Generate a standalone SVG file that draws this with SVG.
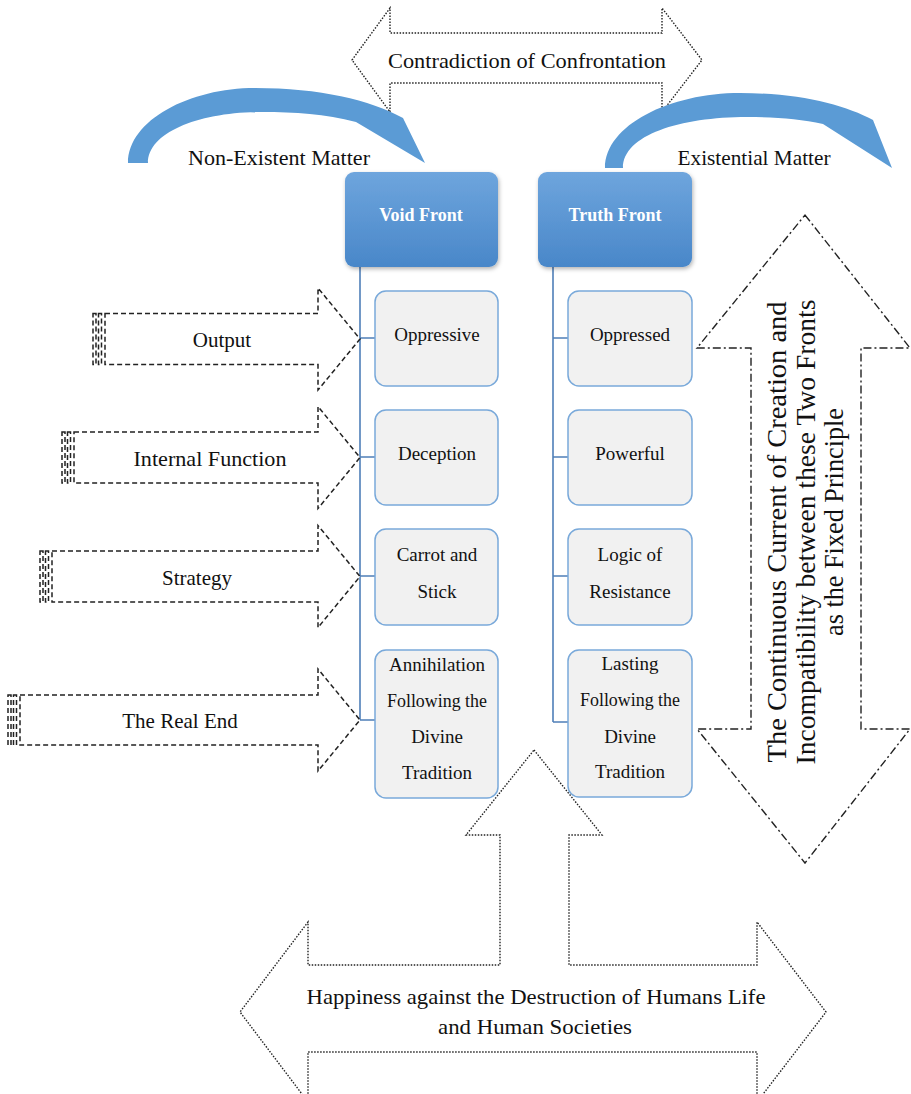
<svg xmlns="http://www.w3.org/2000/svg" width="911" height="1094" viewBox="0 0 911 1094">
<defs>
<linearGradient id="hdr" x1="0" y1="0" x2="0" y2="1">
<stop offset="0" stop-color="#6ea5dd"/>
<stop offset="1" stop-color="#4987c9"/>
</linearGradient>
<filter id="sh" x="-10%" y="-10%" width="130%" height="130%">
<feDropShadow dx="1" dy="2" stdDeviation="2" flood-color="#000" flood-opacity="0.3"/>
</filter>
</defs>
<style>
.t{font-family:"Liberation Serif","Times New Roman",serif;fill:#111;text-anchor:middle}
.hdrT{font-family:"Liberation Serif","Times New Roman",serif;font-weight:bold;font-size:18px;fill:#fff;text-anchor:middle}
.box{fill:#f1f1f1;stroke:#79a9da;stroke-width:1.5}
.hdr{fill:url(#hdr);filter:url(#sh)}
.conn{stroke:#4f7fb8;stroke-width:1.6;fill:none}
.dot{fill:#fff;stroke:#222;stroke-width:1.4;stroke-dasharray:1.5 1.5}
.dash{fill:#fff;stroke:#222;stroke-width:1.5;stroke-dasharray:5 3}
.dd{fill:#fff;stroke:#222;stroke-width:1.4;stroke-dasharray:8 3 2 3}
.blue{fill:#5b9bd5}
</style>

<g id="top-arrow">
<path class="dot" d="M352,60 L390,8 L390,33 L662,33 L662,8 L702,60 L662,112 L662,83 L390,83 L390,112 Z"/>
<text class="t" x="527" y="68" font-size="22" textLength="278" lengthAdjust="spacingAndGlyphs">Contradiction of Confrontation</text>
</g>

<g id="curve-left">
<path class="blue" d="M128,163 C128,120 190,88 255,88 C320,88 370,100 403,118 L425,163 L356,122 C325,114 295,112 262,112 C200,112 148,132 148,163 Z"/>
<text class="t" x="279" y="165" font-size="22" textLength="182" lengthAdjust="spacingAndGlyphs">Non-Existent Matter</text>
</g>

<g id="curve-right">
<path class="blue" d="M605,168 C605,125 670,93 740,93 C800,93 845,105 873,120 L892,168 L823,124 C800,119 775,117 747,117 C680,117 623,135 623,168 Z"/>
<text class="t" x="754" y="165" font-size="22" textLength="153" lengthAdjust="spacingAndGlyphs">Existential Matter</text>
</g>

<g id="connectors">
<path class="conn" d="M360,267 V720 M360,338 H375 M360,457 H375 M360,576 H375 M360,720 H375"/>
<path class="conn" d="M553,267 V722 M553,338 H568 M553,457 H568 M553,576 H568 M553,722 H568"/>
</g>

<g id="void-front">
<rect class="hdr" x="345" y="172" width="153" height="95" rx="9"/>
<text class="hdrT" x="421" y="221">Void Front</text>
</g>
<g id="truth-front">
<rect class="hdr" x="538" y="172" width="154" height="95" rx="9"/>
<text class="hdrT" x="615" y="221">Truth Front</text>
</g>

<g id="oppressive">
<rect class="box" x="375" y="291" width="123" height="95" rx="11"/>
<text class="t" x="437" y="341" font-size="19">Oppressive</text>
</g>
<g id="deception">
<rect class="box" x="375" y="410" width="123" height="95" rx="11"/>
<text class="t" x="437" y="460" font-size="19">Deception</text>
</g>
<g id="carrot">
<rect class="box" x="375" y="529" width="123" height="96" rx="11"/>
<text class="t" x="437" y="561" font-size="19">Carrot and</text>
<text class="t" x="437" y="598" font-size="19">Stick</text>
</g>
<g id="annihilation">
<rect class="box" x="375" y="650" width="123" height="148" rx="11"/>
<text class="t" x="437" y="671" font-size="19">Annihilation</text>
<text class="t" x="437" y="707" font-size="19" textLength="100" lengthAdjust="spacingAndGlyphs">Following the</text>
<text class="t" x="437" y="743" font-size="19">Divine</text>
<text class="t" x="437" y="779" font-size="19">Tradition</text>
</g>

<g id="oppressed">
<rect class="box" x="568" y="291" width="124" height="95" rx="11"/>
<text class="t" x="630" y="341" font-size="19">Oppressed</text>
</g>
<g id="powerful">
<rect class="box" x="568" y="410" width="124" height="95" rx="11"/>
<text class="t" x="630" y="460" font-size="19">Powerful</text>
</g>
<g id="logic">
<rect class="box" x="568" y="529" width="124" height="96" rx="11"/>
<text class="t" x="630" y="561" font-size="19">Logic of</text>
<text class="t" x="630" y="598" font-size="19">Resistance</text>
</g>
<g id="lasting">
<rect class="box" x="568" y="650" width="124" height="147" rx="11"/>
<text class="t" x="630" y="670" font-size="19">Lasting</text>
<text class="t" x="630" y="706" font-size="19" textLength="100" lengthAdjust="spacingAndGlyphs">Following the</text>
<text class="t" x="630" y="743" font-size="19">Divine</text>
<text class="t" x="630" y="778" font-size="19">Tradition</text>
</g>

<g id="arrow-output">
<rect class="dash" x="93" y="313.5" width="3" height="51"/>
<rect class="dash" x="98.5" y="313.5" width="3" height="51"/>
<path class="dash" d="M105,313.5 H318 V288 L360,339 L318,390 V364.5 H105 Z"/>
<text class="t" x="222" y="347" font-size="21">Output</text>
</g>
<g id="arrow-internal">
<rect class="dash" x="62" y="432" width="3" height="51"/>
<rect class="dash" x="67.5" y="432" width="3" height="51"/>
<path class="dash" d="M74,432 H318 V406.5 L360,457.5 L318,508.5 V483 H74 Z"/>
<text class="t" x="210" y="466" font-size="21" textLength="153" lengthAdjust="spacingAndGlyphs">Internal Function</text>
</g>
<g id="arrow-strategy">
<rect class="dash" x="40" y="551" width="3" height="51"/>
<rect class="dash" x="45.5" y="551" width="3" height="51"/>
<path class="dash" d="M52,551 H318 V525.5 L360,576.5 L318,627.5 V602 H52 Z"/>
<text class="t" x="197" y="585" font-size="21">Strategy</text>
</g>
<g id="arrow-realend">
<rect class="dash" x="8" y="695" width="3" height="50"/>
<rect class="dash" x="13.5" y="695" width="3" height="50"/>
<path class="dash" d="M20,695 H318 V669 L360,720 L318,771 V745 H20 Z"/>
<text class="t" x="180" y="728" font-size="21">The Real End</text>
</g>

<g id="right-arrow">
<path class="dd" d="M805,215 L910,348 L861,348 L861,729 L910,729 L805,863 L697,729 L751,729 L751,348 L697,348 Z"/>
<text class="t" transform="translate(786,532) rotate(-90)" font-size="27" textLength="461" lengthAdjust="spacingAndGlyphs">The Continuous Current of Creation and</text>
<text class="t" transform="translate(815,532) rotate(-90)" font-size="27" textLength="465" lengthAdjust="spacingAndGlyphs">Incompatibility between these Two Fronts</text>
<text class="t" transform="translate(843,522) rotate(-90)" font-size="27" textLength="228" lengthAdjust="spacingAndGlyphs">as the Fixed Principle</text>
</g>

<g id="bottom-arrow">
<path class="dot" d="M534,750 L602,835 L569,835 L569,965 L757,965 L757,922 L826,1012 L757,1102 L757,1052 L308,1052 L308,1102 L240,1012 L308,922 L308,965 L500,965 L500,835 L466,835 Z"/>
<text class="t" x="536" y="1004" font-size="22" textLength="459" lengthAdjust="spacingAndGlyphs">Happiness against the Destruction of Humans Life</text>
<text class="t" x="535" y="1034" font-size="22" textLength="194" lengthAdjust="spacingAndGlyphs">and Human Societies</text>
</g>
</svg>
